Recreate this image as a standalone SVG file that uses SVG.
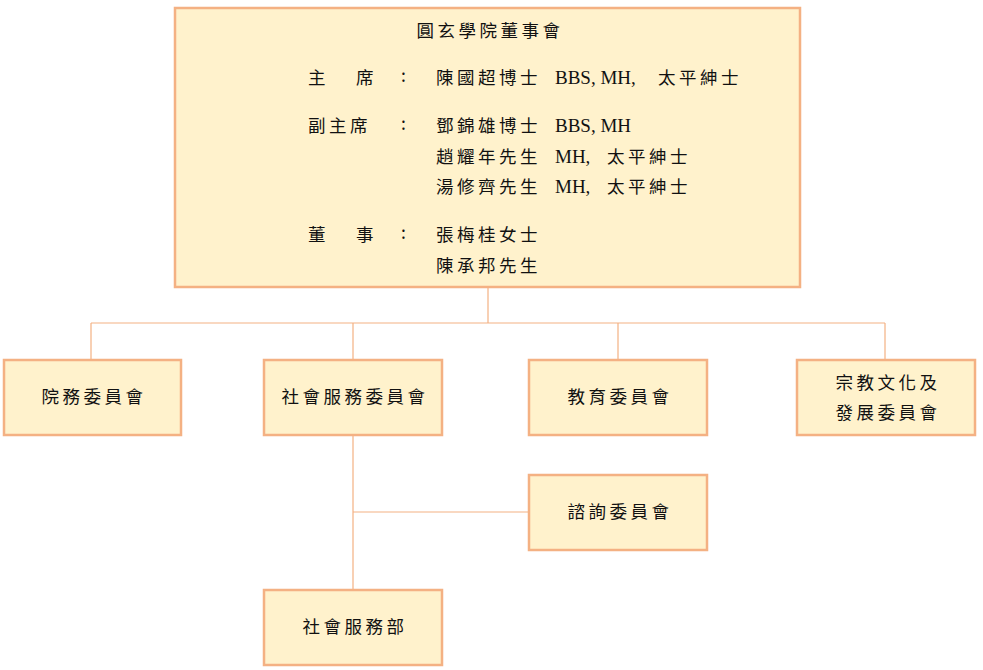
<svg xmlns="http://www.w3.org/2000/svg" width="983" height="670" viewBox="0 0 983 670">
<style>
.box{fill:#FFF2CC;stroke:#F4B183;stroke-width:2.5}
.ln{stroke:#F4B183;stroke-width:1.2;fill:none}
.t{font-family:"Noto Sans CJK TC","Noto Sans CJK SC",sans-serif;font-size:17.5px;letter-spacing:3.5px;fill:#111;dominant-baseline:central}
.c{text-anchor:middle}
.l{font-family:"Liberation Serif",serif;font-size:19px;fill:#111;dominant-baseline:central}
</style>
<rect width="983" height="670" fill="#fff"/>
<g id="connectors">
<path class="ln" d="M488 288V323M91 323H885M91 323V359M353 323V359M618 323V359M885 323V359"/>
<path class="ln" d="M353 435V589M353 512H528"/>
</g>
<g id="board">
<rect class="box" x="175" y="8" width="625" height="279"/>
<text class="t c" x="490" y="29">圓玄學院董事會</text>
<text class="t" x="308" y="76">主</text><text class="t" x="356" y="76">席</text><text class="t" x="401" y="74">:</text>
<text class="t" x="436" y="76">陳國超博士</text><text class="l" x="555" y="77">BBS, MH,</text><text class="t" x="658" y="76">太平紳士</text>
<text class="t" x="308" y="124">副主席</text><text class="t" x="401" y="122">:</text>
<text class="t" x="436" y="124">鄧錦雄博士</text><text class="l" x="555" y="125">BBS, MH</text>
<text class="t" x="436" y="155">趙耀年先生</text><text class="l" x="555" y="156">MH,</text><text class="t" x="607" y="155">太平紳士</text>
<text class="t" x="436" y="185">湯修齊先生</text><text class="l" x="555" y="186">MH,</text><text class="t" x="607" y="185">太平紳士</text>
<text class="t" x="308" y="233">董</text><text class="t" x="356" y="233">事</text><text class="t" x="401" y="231">:</text>
<text class="t" x="436" y="233">張梅桂女士</text>
<text class="t" x="436" y="264">陳承邦先生</text>
</g>
<g id="n1"><rect class="box" x="4" y="360" width="177" height="75"/><text class="t c" x="94" y="395">院務委員會</text></g>
<g id="n2"><rect class="box" x="264" y="360" width="178" height="75"/><text class="t c" x="355" y="395">社會服務委員會</text></g>
<g id="n3"><rect class="box" x="529" y="360" width="178" height="75"/><text class="t c" x="620" y="395">教育委員會</text></g>
<g id="n4"><rect class="box" x="797" y="360" width="178" height="75"/><text class="t c" x="888" y="381">宗教文化及</text><text class="t c" x="888" y="411">發展委員會</text></g>
<g id="n5"><rect class="box" x="529" y="475" width="178" height="75"/><text class="t c" x="620" y="510">諮詢委員會</text></g>
<g id="n6"><rect class="box" x="264" y="590" width="178" height="75"/><text class="t c" x="355" y="625">社會服務部</text></g>
</svg>
